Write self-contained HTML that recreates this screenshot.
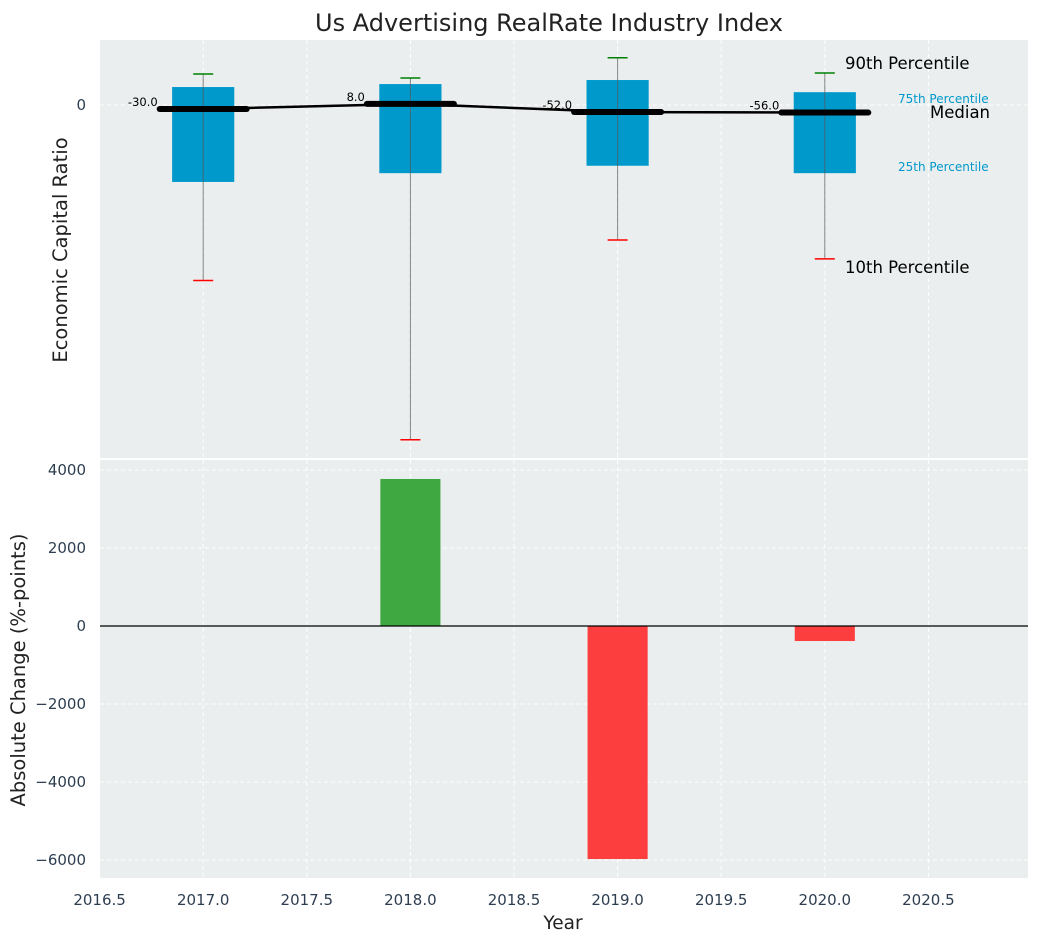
<!DOCTYPE html>
<html><head><meta charset="utf-8"><style>
body{margin:0;background:#fff;font-family:"Liberation Sans","DejaVu Sans",sans-serif}
svg text{font-family:"DejaVu Sans","Liberation Sans",sans-serif}
</style></head><body>
<svg id="c" width="1039" height="942" xmlns="http://www.w3.org/2000/svg"></svg>
<script>
const years=[2017,2018,2019,2020];
const medians=[-30,8,-52,-56];
const q75=[133,155,185,95];
const q25=[-570,-505,-450,-505];
const p90=[230,200,350,237];
const p10=[-1300,-2480,-1000,-1140];
const changes=[0,3770,-5975,-385];
const xTicks=[2016.5,2017.0,2017.5,2018.0,2018.5,2019.0,2019.5,2020.0,2020.5];
const yTicksBottom=[4000,2000,0,-2000,-4000,-6000];
const yTicksBottomLabels=["4000","2000","0","\u22122000","\u22124000","\u22126000"];

const NS="http://www.w3.org/2000/svg";
const svg=document.getElementById('c');
function el(t,a,p){const e=document.createElementNS(NS,t);for(const k in a)e.setAttribute(k,a[k]);(p||svg).appendChild(e);return e;}
const L=100,R=1028,T1=40,B1=458,T2=460,B2=878;
const X=v=>99.6+(v-2016.5)*207.2;
const Y1=v=>105-v*0.135;
const Y2=v=>626-v*0.039;

let r=el('rect',{x:L,y:T1,width:R-L,height:B1-T1,fill:'#eaeeee'});

r=el('rect',{x:L,y:T2,width:R-L,height:B2-T2,fill:'#eaeeee'});


xTicks.forEach(v=>{
  [[T1,B1],[T2,B2]].forEach(([a,b])=>{
    const g=el('line',{x1:X(v),x2:X(v),y1:a,y2:b,stroke:'#fff','stroke-dasharray':'4,3','stroke-width':1});
    
  });
});
let g=el('line',{x1:L,x2:R,y1:Y1(0),y2:Y1(0),stroke:'#fff','stroke-dasharray':'4,3'});

yTicksBottom.forEach(v=>{
  const l=el('line',{x1:L,x2:R,y1:Y2(v),y2:Y2(v),stroke:'#fff','stroke-dasharray':'4,3'});
  
});

const bw=0.3,mw=0.42;
years.forEach((yr,i)=>{
  const b=el('rect',{x:X(yr-bw/2),y:Y1(q75[i]),width:bw*207.2,height:Y1(q25[i])-Y1(q75[i]),fill:'#0099cc'});
  
  const w=el('line',{x1:X(yr),x2:X(yr),y1:Y1(p90[i]),y2:Y1(p10[i]),stroke:'#555','stroke-opacity':0.7,'stroke-width':1});
  
  const c1=el('line',{x1:X(yr)-10,x2:X(yr)+10,y1:Y1(p90[i]),y2:Y1(p90[i]),stroke:'green','stroke-width':1.5});
  
  const c2=el('line',{x1:X(yr)-10,x2:X(yr)+10,y1:Y1(p10[i]),y2:Y1(p10[i]),stroke:'red','stroke-width':1.5});
  
});
const ml=el('polyline',{points:years.map((y,i)=>X(y)+','+Y1(medians[i])).join(' '),fill:'none',stroke:'#000','stroke-width':2.5});

years.forEach((yr,i)=>{
  const m=el('line',{x1:X(yr-mw/2),x2:X(yr+mw/2),y1:Y1(medians[i]),y2:Y1(medians[i]),stroke:'#000','stroke-width':6,'stroke-linecap':'round'});
  
  const t=el('text',{x:X(yr-mw/2)-2,y:Y1(medians[i])-3,'font-size':11.5,'text-anchor':'end',fill:'#000'});
  t.textContent=medians[i].toFixed(1);
  
});

[['90th Percentile',845,69,16.5,'#000'],['75th Percentile',898,103,12,'#0099cc'],['Median',930,118,16.5,'#000'],['25th Percentile',898,171,12,'#0099cc'],['10th Percentile',845,273,16.5,'#000']].forEach(a=>{
  const t=el('text',{x:a[1],y:a[2],'font-size':a[3],fill:a[4]});t.textContent=a[0];
  
});

years.forEach((yr,i)=>{
  const v=changes[i];if(v===0)return;
  const y0=Y2(Math.max(v,0)),h=Math.abs(Y2(v)-Y2(0));
  const b=el('rect',{x:X(yr-0.145),y:y0,width:0.29*207.2,height:h,fill:v>0?'#2ca02c':'#ff2a2a','fill-opacity':0.9});
  
});
const zl=el('line',{x1:L,x2:R,y1:Y2(0),y2:Y2(0),stroke:'#000','stroke-width':1.2});


let t=el('text',{x:86,y:Y1(0)+5,'font-size':15,'text-anchor':'end',fill:'#2d3e50'});t.textContent='0';

yTicksBottom.forEach((v,i)=>{
  const tt=el('text',{x:86,y:Y2(v)+5,'font-size':15,'text-anchor':'end',fill:'#2d3e50'});tt.textContent=yTicksBottomLabels[i];
  
});
xTicks.forEach(v=>{
  const tt=el('text',{x:X(v),y:905,'font-size':15,'text-anchor':'middle',fill:'#2d3e50'});tt.textContent=v.toFixed(1);
  
});

t=el('text',{x:549,y:31,'font-size':24,'text-anchor':'middle',fill:'#222'});t.textContent='Us Advertising RealRate Industry Index';

t=el('text',{x:563,y:929,'font-size':18.5,'text-anchor':'middle',fill:'#222'});t.textContent='Year';

t=el('text',{x:0,y:0,'font-size':19.5,'text-anchor':'middle',fill:'#222',transform:'translate(67,250) rotate(-90)'});t.textContent='Economic Capital Ratio';

t=el('text',{x:0,y:0,'font-size':19.5,'text-anchor':'middle',fill:'#222',transform:'translate(25,670) rotate(-90)'});t.textContent='Absolute Change (%-points)';

</script>
</body></html>
